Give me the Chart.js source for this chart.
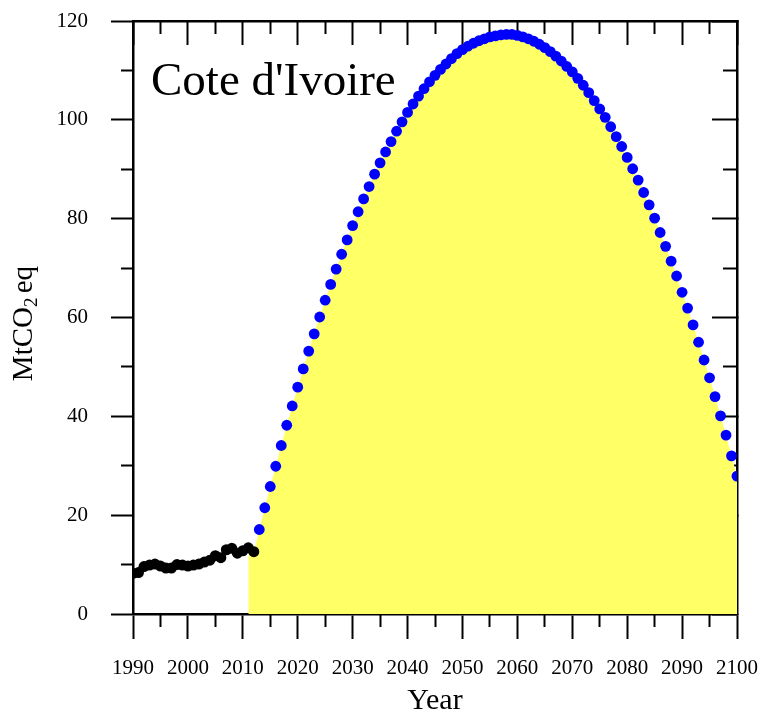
<!DOCTYPE html>
<html>
<head>
<meta charset="utf-8">
<script src="https://cdn.jsdelivr.net/npm/chart.js@4.4.1/dist/chart.umd.min.js"></script>
<style>
  html, body { margin: 0; padding: 0; background: #fff; }
  canvas { display: block; }
</style>
</head>
<body>
<canvas id="myChart" width="761" height="716"></canvas>
<script>
// historical emissions (black dots)
const histStart = 1990;
const histValues = [8.2, 8.4, 9.6, 9.9, 10.1, 9.7, 9.3, 9.3, 10.0, 9.9, 9.7, 9.9, 10.1, 10.5, 10.9, 11.8, 11.4, 13.0, 13.3, 12.3, 12.8, 13.4, 12.6];

// projected emissions (blue dots), 2013..2100
const projStart = 2013;
const projValues = [
  17.1, 21.5, 25.8, 29.9, 34.1, 38.2, 42.1, 45.9, 49.6, 53.2,
  56.7, 60.1, 63.5, 66.7, 69.8, 72.8, 75.7, 78.6, 81.4, 84.0,
  86.5, 89.0, 91.3, 93.5, 95.6, 97.7, 99.6, 101.5, 103.2, 104.8,
  106.3, 107.7, 109.0, 110.2, 111.3, 112.4, 113.4, 114.2, 114.9, 115.5,
  116.0, 116.4, 116.8, 117.0, 117.2, 117.3, 117.3, 117.1, 116.8, 116.4,
  115.9, 115.3, 114.6, 113.8, 112.9, 111.9, 110.8, 109.7, 108.4, 107.0,
  105.5, 103.9, 102.2, 100.5, 98.6, 96.6, 94.6, 92.4, 90.1, 87.8,
  85.3, 82.8, 80.1, 77.2, 74.4, 71.4, 68.4, 65.1, 61.9, 58.5,
  55.0, 51.4, 47.8, 44.0, 40.1, 36.2, 32.0, 27.9
];

// shaded area starts at this year
const fillStart = 2011;

const xTickLabels = [1990, 2000, 2010, 2020, 2030, 2040, 2050, 2060, 2070, 2080, 2090, 2100];
const xMinorTicks = [1995, 2005, 2015, 2025, 2035, 2045, 2055, 2065, 2075, 2085, 2095];
const yTickLabels = [0, 20, 40, 60, 80, 100, 120];
const yMinorTicks = [10, 30, 50, 70, 90, 110];

const countryName = "Cote d'Ivoire";
const serif = 'Liberation Serif';

const histPoints = histValues.map((v, i) => ({ x: histStart + i, y: v }));
const projPoints = projValues.map((v, i) => ({ x: projStart + i, y: v }));
const fillPoints = histPoints.filter(p => p.x >= fillStart).concat(projPoints);

// one axis on each side of the frame; minor ones have zero size and sit against the plot
function frameAxis(pos, ticks, len, major, size, extra) {
  const horizontal = pos === 'top' || pos === 'bottom';
  return Object.assign({
    type: 'linear',
    position: pos,
    min: horizontal ? 1990 : 0,
    max: horizontal ? 2100 : 120,
    weight: major ? 1 : 0,
    afterBuildTicks: s => { s.ticks = ticks.map(v => ({ value: v })); },
    afterFit: s => {
      if (horizontal) s.height = size; else s.width = size;
      // labels hanging past the frame should not shrink the plot
      s.paddingLeft = s.paddingRight = s.paddingTop = s.paddingBottom = 0;
    },
    grid: { drawOnChartArea: false, drawTicks: true, tickLength: len, tickWidth: 2, tickColor: '#000' },
    border: { display: major, width: 2.5, color: '#000' },
    ticks: { display: false, autoSkip: false }
  }, extra || {});
}

const yTitle = {
  id: 'yTitle',
  afterDraw(chart) {
    const ctx = chart.ctx;
    const big = '29px ' + serif, small = '19px ' + serif;
    ctx.save();
    ctx.fillStyle = '#000';
    ctx.textBaseline = 'alphabetic';
    ctx.textAlign = 'left';
    ctx.font = big;
    const w1 = ctx.measureText('MtCO').width;
    const w3 = ctx.measureText(' eq').width;
    ctx.font = small;
    const w2 = ctx.measureText('2').width;
    const total = w1 + w2 + w3;
    ctx.translate(32, 322);
    ctx.rotate(-Math.PI / 2);
    let x = -total / 2;
    ctx.font = big;
    ctx.fillText('MtCO', x, 0);
    x += w1;
    ctx.font = small;
    ctx.fillText('2', x, 5);
    x += w2;
    ctx.font = big;
    ctx.fillText(' eq', x - 3, 0);
    ctx.restore();

    ctx.save();
    ctx.fillStyle = '#000';
    ctx.font = '47px ' + serif;
    ctx.textBaseline = 'alphabetic';
    ctx.fillText(countryName, 151, 95);
    ctx.restore();
  }
};

new Chart(document.getElementById('myChart'), {
  type: 'line',
  data: {
    datasets: [
      {
        label: 'historical',
        data: histPoints,
        showLine: false,
        pointRadius: 5.5,
        pointBackgroundColor: '#000',
        pointBorderWidth: 0,
        order: 1
      },
      {
        label: 'projection',
        data: projPoints,
        showLine: false,
        pointRadius: 5.4,
        pointBackgroundColor: '#0000FF',
        pointBorderWidth: 0,
        order: 2
      },
      {
        label: 'area',
        data: fillPoints,
        showLine: true,
        borderWidth: 0,
        pointRadius: 0,
        tension: 0,
        fill: 'origin',
        backgroundColor: '#FFFF66',
        order: 3
      }
    ]
  },
  options: {
    responsive: false,
    animation: false,
    layout: { padding: { top: 21, left: 0, right: 0, bottom: 0 } },
    plugins: { legend: { display: false }, tooltip: { enabled: false } },
    scales: {
      x: frameAxis('bottom', xTickLabels, 25, true, 102, {
        ticks: {
          display: true, autoSkip: false, maxRotation: 0, padding: 17, color: '#000',
          font: { family: serif, size: 21 },
          callback: v => String(v)
        },
        title: { display: true, text: 'Year', color: '#000', font: { family: serif, size: 30, lineHeight: 1 }, padding: 0 }
      }),
      xMinor: frameAxis('bottom', xMinorTicks, 13, false, 0),
      xTop: frameAxis('top', xTickLabels, -24, true, 0),
      xTopMinor: frameAxis('top', xMinorTicks, -13, false, 0),
      y: frameAxis('left', yTickLabels, 22, true, 133, {
        ticks: {
          display: true, autoSkip: false, padding: 23, color: '#000',
          font: { family: serif, size: 21 },
          callback: v => String(v)
        }
      }),
      yMinor: frameAxis('left', yMinorTicks, 12, false, 0),
      yRight: frameAxis('right', yTickLabels, -25, true, 24),
      yRightMinor: frameAxis('right', yMinorTicks, -14, false, 0)
    }
  },
  plugins: [yTitle]
});
</script>
</body>
</html>
